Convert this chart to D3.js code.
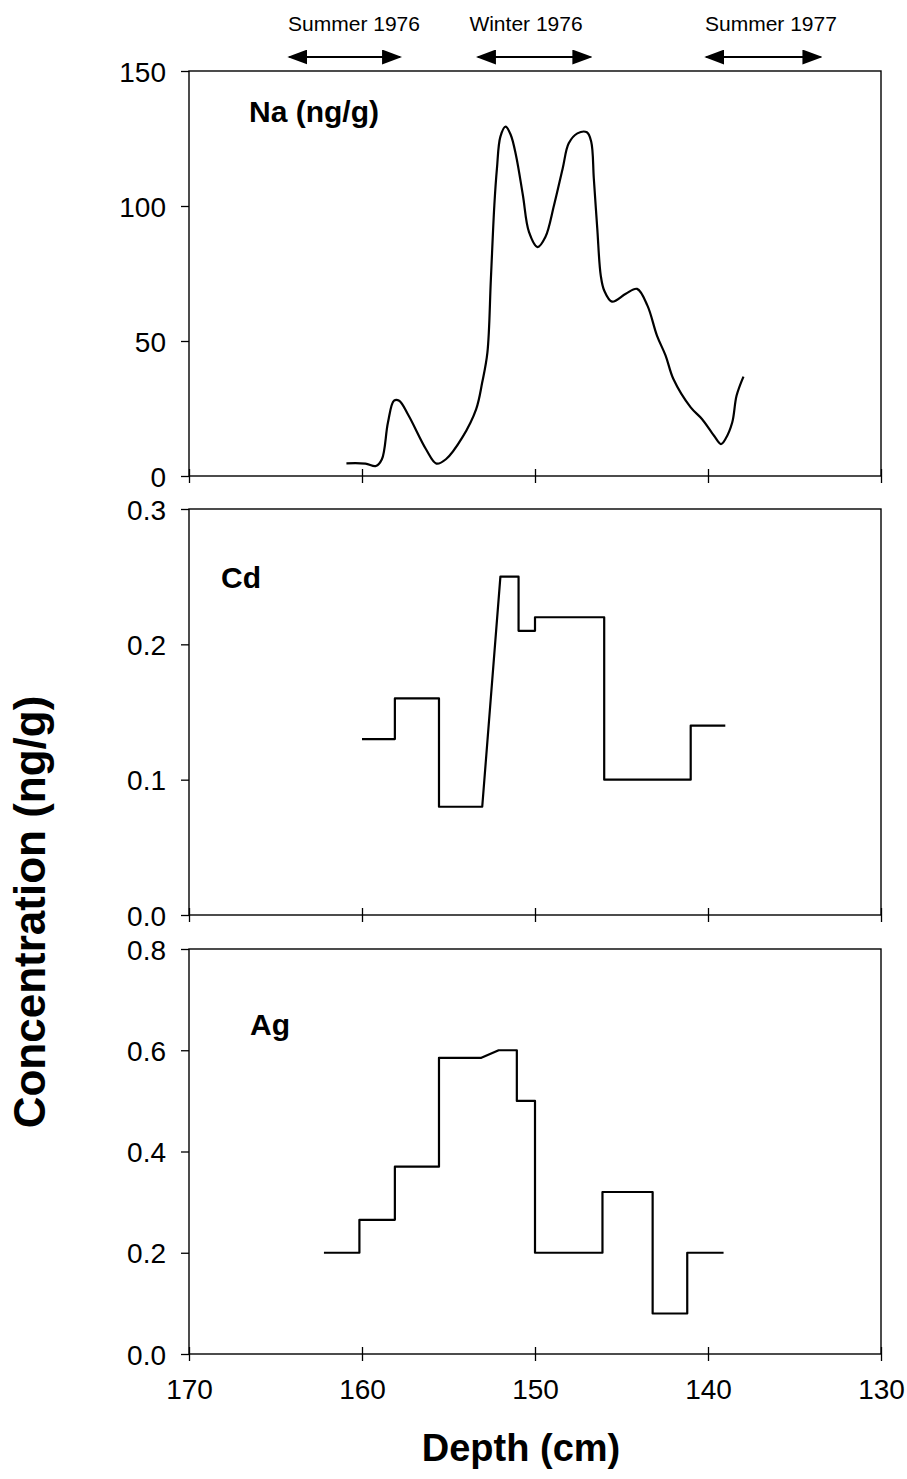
<!DOCTYPE html>
<html><head><meta charset="utf-8">
<script src="https://cdn.jsdelivr.net/npm/d3@7"></script>
<style>
html,body{margin:0;padding:0;background:#fff;}
svg{display:block;}
text{font-family:"Liberation Sans",Arial,sans-serif;fill:#000;}
</style></head>
<body>
<svg id="c" width="907" height="1479"></svg>
<script>
// ---------------- data ----------------
const xTicks = [170, 160, 150, 140, 130];

const naDepth = [160.9,159.8,159.2,158.85,158.5,158.15,157.85,157.3,156.3,155.7,155.15,154.2,153.4,153.05,152.75,152.55,152.35,152.2,152.0,151.7,151.4,151.1,150.7,150.35,149.85,149.4,148.9,148.4,148.05,147.55,147.0,146.75,146.6,146.4,146.2,146.0,145.55,144.75,144.1,143.5,142.95,142.45,142.0,141.0,140.35,139.65,139.25,139.0,138.6,138.35,137.95];
const naValue = [4.7,4.6,3.7,6.2,19.8,27.9,27.9,22.3,9.9,4.6,6.2,14.3,24.8,34.7,45.8,73.0,100.3,113.9,125.7,129.4,126.3,118.8,104.0,90.4,84.8,88.5,100.3,113.9,123.2,126.9,127.3,123.8,110.2,91.6,74.3,68.7,64.6,67.5,69.3,63.1,52.0,44.6,35.9,25.4,21.1,14.9,11.8,13.6,19.8,29.7,36.8];
const naTicks = [0, 50, 100, 150];

const cdDepth = [160.0,158.1,158.1,155.55,155.55,153.05,152.0,150.95,150.95,150.0,150.0,146.0,146.0,141.0,141.0,139.0];
const cdValue = [0.13,0.13,0.16,0.16,0.08,0.08,0.25,0.25,0.21,0.21,0.22,0.22,0.10,0.10,0.14,0.14];
const cdTicks = [0.0, 0.1, 0.2, 0.3];

const agDepth = [162.2,160.15,160.15,158.1,158.1,155.55,155.55,153.1,152.1,151.05,151.05,150.0,150.0,146.1,146.1,143.2,143.2,141.2,141.2,139.1];
const agValue = [0.20,0.20,0.265,0.265,0.37,0.37,0.585,0.585,0.60,0.60,0.50,0.50,0.20,0.20,0.32,0.32,0.08,0.08,0.20,0.20];
const agTicks = [0.0, 0.2, 0.4, 0.6, 0.8];

const seasonLabels = ["Summer 1976", "Winter 1976", "Summer 1977"];
const seasonLabelDepth = [160.46, 150.52, 136.36];
const seasonStart = [164.2, 153.3, 140.1];
const seasonEnd = [157.8, 146.8, 133.5];

// ---------------- layout ----------------
const svg = d3.select("#c");
const L = 189, R = 881;
const x = d3.scaleLinear().domain([170, 130]).range([L, R]);

const panels = [
  {name:"Na (ng/g)", depth:naDepth, value:naValue, ticks:naTicks, max:150, top:71, bottom:476, fmt:d3.format("d"), curve:d3.curveCatmullRom.alpha(0.5), lx:249, ly:122},
  {name:"Cd", depth:cdDepth, value:cdValue, ticks:cdTicks, max:0.3, top:509, bottom:915, fmt:d3.format(".1f"), curve:d3.curveLinear, lx:221, ly:588},
  {name:"Ag", depth:agDepth, value:agValue, ticks:agTicks, max:0.8, top:949, bottom:1354, fmt:d3.format(".1f"), curve:d3.curveLinear, lx:250, ly:1035}
];

panels.forEach((p, i) => {
  const y = d3.scaleLinear().domain([0, p.max]).range([p.bottom, p.top]);
  const g = svg.append("g");
  g.append("rect").attr("x", L).attr("y", p.top).attr("width", R - L).attr("height", p.bottom - p.top)
    .attr("fill", "none").attr("stroke", "#000").attr("stroke-width", 1.4);
  const ya = g.append("g").attr("transform", `translate(${L},0)`)
    .call(d3.axisLeft(y).tickValues(p.ticks).tickFormat(p.fmt).tickSize(8).tickPadding(15));
  ya.select(".domain").remove();
  ya.selectAll("line").attr("stroke", "#000").attr("stroke-width", 1.3);
  ya.selectAll("text").style("font-size", "28px").attr("dy", "0.36em");
  const xa = g.append("g").attr("transform", `translate(0,${p.bottom})`)
    .call(d3.axisBottom(x).tickValues(xTicks).tickFormat(i === 2 ? d3.format("d") : () => "").tickSize(7).tickPadding(18));
  xa.select(".domain").remove();
  xa.selectAll("line").attr("stroke", "#000").attr("stroke-width", 1.3);
  xa.selectAll("text").style("font-size", "28px");
  const xa2 = g.append("g").attr("transform", `translate(0,${p.bottom})`)
    .call(d3.axisTop(x).tickValues(xTicks).tickFormat(() => "").tickSize(7));
  xa2.select(".domain").remove();
  xa2.selectAll("line").attr("stroke", "#000").attr("stroke-width", 1.3);
  const pts = p.depth.map((d, k) => [d, p.value[k]]);
  const line = d3.line().x(d => x(d[0])).y(d => y(d[1])).curve(p.curve);
  g.append("path").datum(pts).attr("d", line).attr("fill", "none")
    .attr("stroke", "#000").attr("stroke-width", 2.2).attr("stroke-linejoin", "round");
  g.append("text").attr("x", p.lx).attr("y", p.ly).text(p.name)
    .style("font-size", "30px").style("font-weight", "bold");
});

svg.append("text").attr("x", x(150) - 14).attr("y", 1461).attr("text-anchor", "middle")
  .style("font-size", "38px").style("font-weight", "bold").text("Depth (cm)");
svg.append("text").attr("transform", "translate(45,912) rotate(-90)").attr("text-anchor", "middle")
  .style("font-size", "44px").style("font-weight", "bold").text("Concentration (ng/g)");

const defs = svg.append("defs");
defs.append("marker").attr("id", "ah").attr("viewBox", "0 0 10 10").attr("refX", 9).attr("refY", 5)
  .attr("preserveAspectRatio", "none")
  .attr("markerWidth", 20).attr("markerHeight", 15).attr("markerUnits", "userSpaceOnUse").attr("orient", "auto-start-reverse")
  .append("path").attr("d", "M0,0 L10,5 L0,10 Z").attr("fill", "#000");
seasonLabels.forEach((s, i) => {
  svg.append("text").attr("x", x(seasonLabelDepth[i])).attr("y", 31).attr("text-anchor", "middle")
    .style("font-size", "21px").text(s);
  svg.append("line").attr("x1", x(seasonStart[i])).attr("x2", x(seasonEnd[i])).attr("y1", 57).attr("y2", 57)
    .attr("stroke", "#000").attr("stroke-width", 1.8)
    .attr("marker-start", "url(#ah)").attr("marker-end", "url(#ah)");
});
</script>
</body></html>
